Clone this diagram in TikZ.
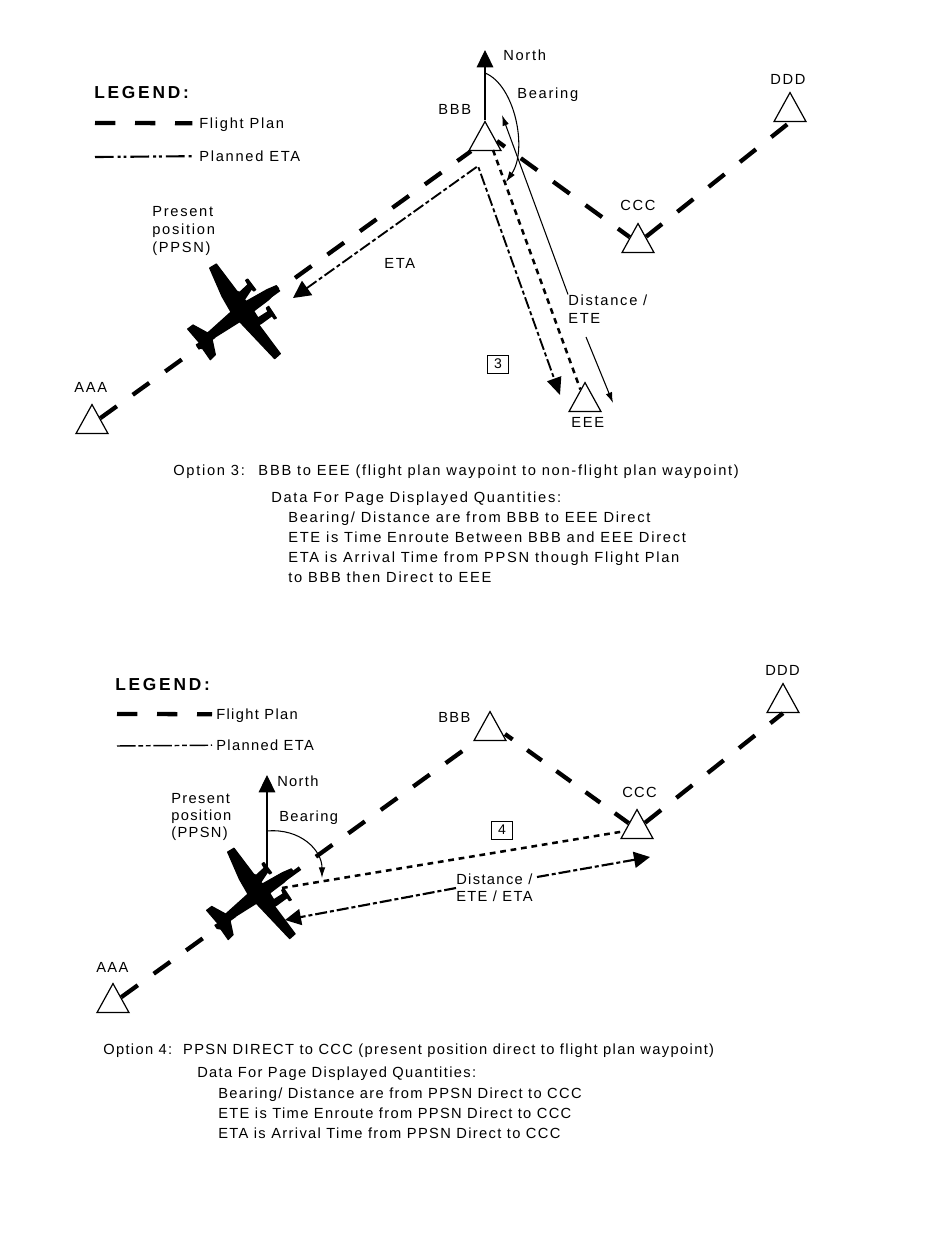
\documentclass[tikz,border=0pt]{standalone}
\usepackage{fontspec}
\setmainfont{Liberation Sans}
\newfontfamily\topfont[LetterSpace=11.8]{Liberation Sans}
\newfontfamily\botfont[LetterSpace=9.3]{Liberation Sans}
\newfontfamily\titlefont[LetterSpace=16]{Liberation Sans}
\usetikzlibrary{shapes.geometric, arrows.meta}

\tikzset{
    waypoint/.style={draw, fill=white, isosceles triangle, isosceles triangle stretches, shape border rotate=90, minimum width=32*.75pt, minimum height=29*.75pt, inner sep=0pt, anchor=apex, line width=.9pt},
    txt/.style={anchor=base west, inner sep=0pt},
    block/.style={anchor=west, inner sep=0pt, align=left},
    legendtitle/.style={anchor=base west, inner sep=0pt, font=\titlefont\fontsize{13}{16}\selectfont\bfseries},
    tag/.style={draw, line width=.7pt, minimum width=15.5pt, minimum height=13.5pt, inner sep=0pt, font=\topfont\fontsize{10.5}{12}\selectfont},
    flightplan/.style={line width=3.2pt, dash pattern=on 15.3pt off 14.7pt},
    planned/.style={line width=1.4pt, dash pattern=on 9pt off 2.2pt on 3pt off 2.2pt},
    plannedtop/.style={line width=1.6pt, dash pattern=on 14pt off 3pt on 2.2pt off 2.2pt on 2.2pt off 3pt},
    plannedbot/.style={line width=1.1pt, dash pattern=on 14pt off 2pt on 3.6pt off 2pt on 3.6pt off 2pt},
    direct/.style={line width=1.9pt, dash pattern=on 4.3pt off 3.6pt},
    bigtip/.style={-{Triangle[length=13pt,width=12.5pt]}},
    thinline/.style={line width=.8pt},
    plane/.pic={
        \filldraw[line width=.9pt, line join=round, scale=1/3, shift={(-215,-190)}] (118,55) -- (138,43) -- (200,125) -- (208,128) -- (233,105) -- (226,92) -- (232,88) -- (256,120) -- (250,124) -- (244,117) -- (222,150) -- (228,155) -- (290,120) -- (318,108) -- (325,117) -- (295,150) -- (250,184) -- (263,205) -- (293,186) -- (288,175) -- (295,170) -- (318,205) -- (312,208) -- (305,198) -- (272,222) -- (265,225) -- (330,312) -- (313,327) -- (208,216) -- (125,268) -- (135,315) -- (120,330) -- (97,297) -- (85,295) -- (78,285) -- (88,280) -- (52,238) -- (68,226) -- (112,250) -- (182,187) -- (155,140) -- cycle;
    }
}

\begin{document}
\begin{tikzpicture}[x=.75pt, y=-.75pt]
    \useasboundingbox (0,0) rectangle (950,1260);

    % Option 3
    \begin{scope}[every node/.append style={font=\topfont\fontsize{11}{15}\selectfont}]
    \node[legendtitle] (legendA) at (94,98) {LEGEND:};
    \node[txt] (flightA) at (199,128) {Flight Plan};
    \node[txt] (etaA) at (199,161) {Planned ETA};
    \coordinate (flightAstart) at (95,123);
    \coordinate (etaAstart) at (95,157);
    \draw[flightplan] (flightAstart) -- ([xshift=-5pt,yshift=3.6pt]flightA.base west);
    \draw[plannedtop] (etaAstart) -- ([xshift=-5pt,yshift=3.6pt]etaA.base west);

    \node[waypoint] (AAA) at (92,403) {};
    \node[waypoint] (BBB) at (485,120) {};
    \node[waypoint] (CCC) at (638,222) {};
    \node[waypoint] (DDD) at (790,91) {};
    \node[waypoint] (EEE) at (585,381) {};
    \node[txt] (AAAlabel) at (74,392) {AAA};
    \node[txt] (BBBlabel) at (438,114) {BBB};
    \node[txt] (CCClabel) at (620,210) {CCC};
    \node[txt] (DDDlabel) at (770,84) {DDD};
    \node[txt] (EEElabel) at (571,427) {EEE};

    \coordinate (BBBright) at (497,141);
    \draw[flightplan] (AAA) -- (BBB);
    \draw[flightplan, dash phase=8pt] (BBBright) -- (CCC);
    \draw[flightplan] (CCC) -- (DDD.lower side);

    \pic at (242,313) {plane};
    \node[block] (ppsnA) at (152,231) {Present\\[-1.5pt]position\\[-1.5pt](PPSN)};

    \coordinate (northA) at (485,50);
    \draw[thinline, bigtip] (BBB.apex) -- (northA);
    \node[txt] (northAlabel) at (503,60) {North};
    \node[txt] (bearingAlabel) at (517,98) {Bearing};
    \coordinate (arcAstart) at (485,73);
    \coordinate (arcAend) at (506,182);
    \draw[thinline, -{Latex[length=8pt,width=5pt]}] (arcAstart) .. controls (515,85) and (528,150) .. (arcAend);

    \coordinate (etaAbend) at (478,166);
    \coordinate (etaAplane) at (293,298);
    \coordinate (etaAend) at (560,395);
    \draw[planned, {Triangle[length=13pt,width=13pt]}-{Triangle[length=13pt,width=11pt]}] (etaAplane) -- (etaAbend) -- (etaAend);
    \node[txt] (etaAlabel) at (384,268) {ETA};

    \coordinate (directAstart) at (493,150);
    \draw[direct] (directAstart) -- (EEE);

    \node[block] (distAlabel) at (568,309) {Distance /\\[-1.5pt]ETE};
    \coordinate (distAtop) at (502,115);
    \coordinate (distAlow) at (586,337);
    \coordinate (distAbottom) at (613,403);
    \draw[thinline, -{Latex[length=8pt,width=5pt]}] (distAlabel.north west) -- (distAtop);
    \draw[thinline, -{Latex[length=8pt,width=5pt]}] (distAlow) -- (distAbottom);
    \node[tag] (tagthree) at (498,364) {3};

    \node[txt] (optionthree) at (173,475) {Option 3:\ \ \hspace{1.5pt}BBB to EEE (flight plan waypoint to non-flight plan waypoint)};
    \node[txt] (datathree) at (271,502) {Data For Page Displayed Quantities:};
    \node[block] (linesthree) at (288,547) {Bearing/ Distance are from BBB to EEE Direct\\ETE is Time Enroute Between BBB and EEE Direct\\ETA is Arrival Time from PPSN though Flight Plan\\to BBB then Direct to EEE};
    \end{scope}

    % Option 4
    \begin{scope}[every node/.append style={font=\botfont\fontsize{11}{15}\selectfont}]
    \node[legendtitle] (legendB) at (115,690) {LEGEND:};
    \node[txt] (flightB) at (216,719) {Flight Plan};
    \node[txt] (etaB) at (216,750) {Planned ETA};
    \coordinate (flightBstart) at (117,714);
    \coordinate (etaBstart) at (117,746);
    \draw[flightplan] (flightBstart) -- ([xshift=-3pt,yshift=3.6pt]flightB.base west);
    \draw[plannedbot] (etaBstart) -- ([xshift=-3pt,yshift=3.6pt]etaB.base west);

    \node[waypoint] (AAAb) at (113,982) {};
    \node[waypoint] (BBBb) at (490,710) {};
    \node[waypoint] (CCCb) at (637,808) {};
    \node[waypoint] (DDDb) at (783,682) {};
    \node[txt] (AAAblabel) at (96,972) {AAA};
    \node[txt] (BBBblabel) at (438,722) {BBB};
    \node[txt] (CCCblabel) at (622,797) {CCC};
    \node[txt] (DDDblabel) at (765,675) {DDD};

    \coordinate (BBBbright) at (505,734);
    \draw[flightplan] (AAAb) -- (BBBb);
    \draw[flightplan, dash pattern=on 13.5pt off 13.5pt, dash phase=6.5pt] (BBBbright) -- (CCCb);
    \draw[flightplan] (CCCb) -- (DDDb.lower side);

    \pic[scale=.955] at (258.5,895) {plane};
    \node[block] (ppsnB) at (171,817) {Present\\[-2pt]position\\[-2pt](PPSN)};

    \coordinate (northBfoot) at (267,868);
    \coordinate (northB) at (267,775);
    \draw[thinline, bigtip] (northBfoot) -- (northB);
    \node[txt] (northBlabel) at (277,786) {North};
    \node[txt] (bearingBlabel) at (279,821) {Bearing};
    \coordinate (arcBstart) at (267,831);
    \coordinate (arcBend) at (322,878);
    \draw[thinline, -{Latex[length=8pt,width=5pt]}] (arcBstart) .. controls (300,828) and (322,850) .. (arcBend);

    \coordinate (directBstart) at (282,888);
    \draw[direct] (directBstart) -- (CCCb);

    \node[block] (distBlabel) at (456,888) {Distance /\\[-2pt]ETE / ETA};
    \coordinate (distBplane) at (285,920);
    \coordinate (distBmid) at (537,877);
    \coordinate (distBend) at (650,857);
    \draw[planned, line width=1.6pt, -{Triangle[length=12pt,width=12pt]}] (distBlabel.west) -- (distBplane);
    \draw[planned, line width=1.6pt, -{Triangle[length=12pt,width=12pt]}] (distBmid) -- (distBend);
    \node[tag] (tagfour) at (502,830) {4};

    \node[txt] (optionfour) at (103,1054) {Option 4:\ \ PPSN DIRECT to CCC (present position direct to flight plan waypoint)};
    \node[txt] (datafour) at (197,1077) {Data For Page Displayed Quantities:};
    \node[block] (linesfour) at (218,1113) {Bearing/ Distance are from PPSN Direct to CCC\\ETE is Time Enroute from PPSN Direct to CCC\\ETA is Arrival Time from PPSN Direct to CCC};
    \end{scope}
\end{tikzpicture}
\end{document}
